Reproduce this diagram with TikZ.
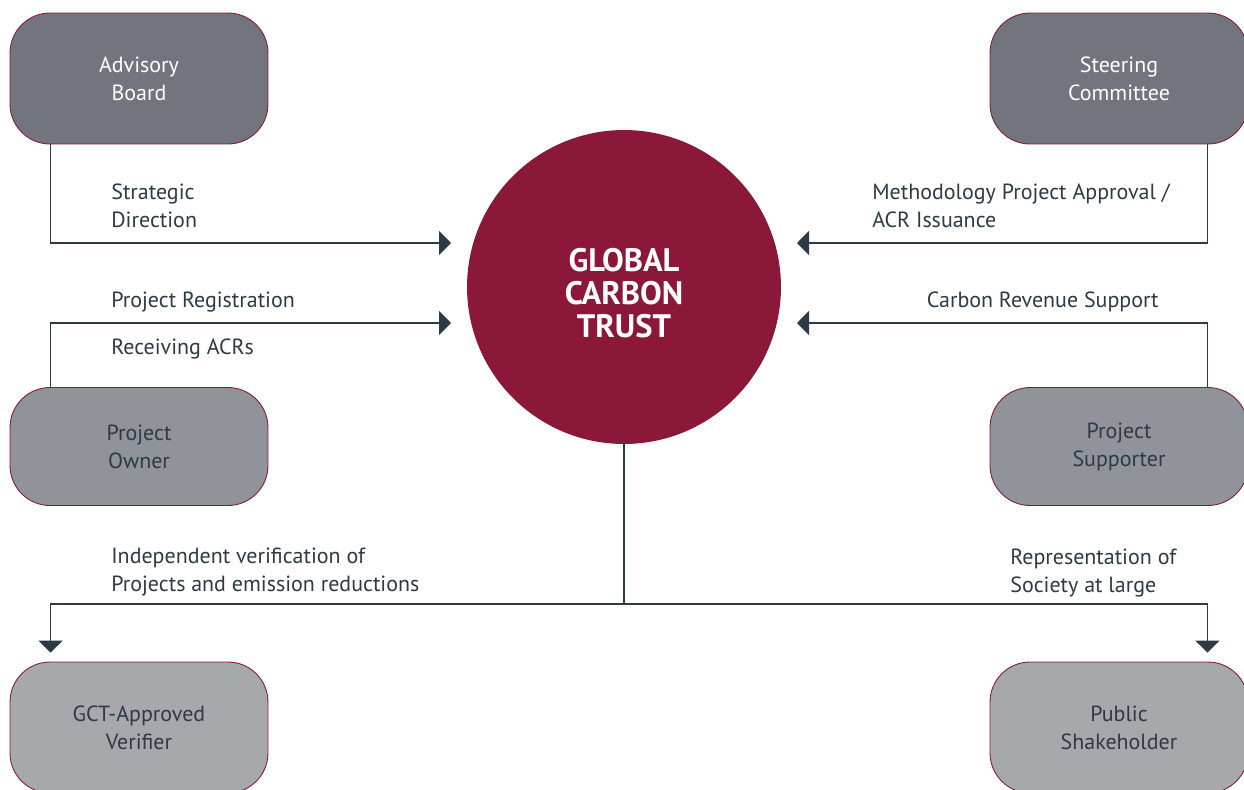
\documentclass[tikz,border=0pt]{standalone}
\usepackage{fontspec}
\setmainfont{PT Sans}
\usepackage{xcolor}
\usepackage{tikz}
\usetikzlibrary{arrows.meta,positioning}

\definecolor{gctred}{HTML}{8B1838}
\definecolor{boxdark}{HTML}{72757D}
\definecolor{boxmid}{HTML}{909399}
\definecolor{boxlight}{HTML}{A7A8AC}
\definecolor{inkline}{HTML}{2E3A45}

\begin{document}
\begin{tikzpicture}[x=0.02cm,y=-0.02cm]
\tikzstyle{rolebox}=[draw=gctred,line width=0.5pt,rounded corners=0.8cm,minimum width=5.16cm,align=center,font=\fontsize{12.5}{15.9}\selectfont]
\tikzstyle{topbox}=[rolebox,fill=boxdark,text=white,minimum height=2.62cm]
\tikzstyle{midbox}=[rolebox,fill=boxmid,text=inkline,minimum height=2.36cm]
\tikzstyle{lowbox}=[rolebox,fill=boxlight,text=inkline,minimum height=2.62cm]
\tikzstyle{flow}=[draw=inkline,line width=0.75pt]
\tikzstyle{flowto}=[flow,-{Triangle[length=0.24cm,width=0.48cm]}]
\tikzstyle{note}=[text=inkline,align=left,inner sep=0pt,font=\fontsize{12.5}{15.9}\selectfont]

\useasboundingbox (0,0) rectangle (1244,789);
\clip (0,0) rectangle (1244,789);

% the trust
\node [circle,fill=gctred,minimum size=6.28cm,inner sep=0pt] (gct) at (624,287) {};
\node [text=white,align=center,inner sep=0pt,font=\fontsize{18.5}{18.6}\bfseries\selectfont] (gcttxt) at (624,293) {GLOBAL\\CARBON\\TRUST};

% roles
\node [topbox] (ab) at (139,78.5) {Advisory\\Board};
\node [topbox] (sc) at (1119,78.5) {Steering\\Committee};
\node [midbox] (po) at (139,446.5) {Project\\Owner};
\node [midbox] (ps) at (1119,446.5) {Project\\Supporter};
\node [lowbox] (ver) at (139,727.5) {GCT-Approved\\Verifier};
\node [lowbox] (pub) at (1119,727.5) {Public\\Shakeholder};

% arrow ends beside the circle
\coordinate (abin) at (451,243);
\coordinate (scin) at (797,243);
\coordinate (poin) at (451,323);
\coordinate (psin) at (797,323);
\coordinate (split) at (624,604);

\draw [flowto] ([xshift=0.82cm]ab.south west) |- (abin);
\draw [flowto] ([xshift=-0.82cm]sc.south east) |- (scin);
\draw [flowto] ([xshift=0.82cm]po.north west) |- (poin);
\draw [flowto] ([xshift=-0.82cm]ps.north east) |- (psin);
\draw [flow] (gct.south) -- (split);
\draw [flowto,shorten >=0.18cm] (split) -| ([xshift=0.82cm]ver.north west);
\draw [flowto,shorten >=0.18cm] (split) -| ([xshift=-0.82cm]pub.north east);

% labels (base = last line)
\node [note,anchor=base west] (sdtxt) at (111,227) {Strategic\\Direction};
\node [note,anchor=base west] (mptxt) at (872,227) {Methodology Project Approval /\\ACR Issuance};
\node [note,anchor=base west] (prtxt) at (111,307) {Project Registration};
\node [note,anchor=base west] (ratxt) at (111,354) {Receiving ACRs};
\node [note,anchor=base east] (crtxt) at (1159,307) {Carbon Revenue Support};
\node [note,anchor=base west] (ivtxt) at (111,591) {Independent verification of\\Projects and emission reductions};
\node [note,anchor=base west] (rstxt) at (1010,592) {Representation of\\Society at large};
\end{tikzpicture}
\end{document}
